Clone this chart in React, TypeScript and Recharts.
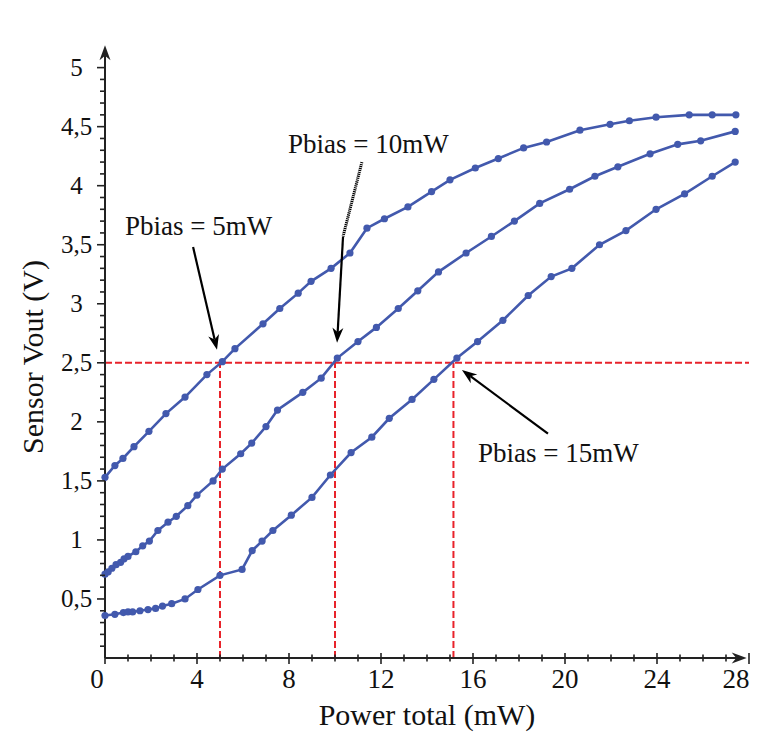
import React from "react";
import { LineChart, Line, XAxis, YAxis, ReferenceLine } from "recharts";

// Pbias = 5 mW curve
const pbias5X = [0, 0.43, 0.78, 1.26, 1.91, 2.65, 3.48, 4.43, 5.1, 5.65, 6.87, 7.6, 8.4, 8.96, 9.83, 10.65, 11.39, 12.15, 13.17, 14.2, 15.0, 16.1, 17.1, 18.2, 19.2, 20.65, 21.96, 22.8, 23.96, 25.4, 26.4, 27.43];
const pbias5Y = [1.53, 1.63, 1.69, 1.79, 1.92, 2.07, 2.21, 2.4, 2.51, 2.62, 2.83, 2.96, 3.09, 3.19, 3.3, 3.43, 3.64, 3.72, 3.82, 3.95, 4.05, 4.15, 4.23, 4.32, 4.37, 4.47, 4.52, 4.55, 4.58, 4.6, 4.6, 4.6];

// Pbias = 10 mW curve
const pbias10X = [0, 0.14, 0.3, 0.48, 0.68, 0.83, 1.0, 1.34, 1.64, 1.93, 2.3, 2.74, 3.1, 3.6, 4.0, 4.7, 5.1, 5.9, 6.38, 7.0, 7.5, 8.6, 9.4, 10.1, 11.0, 11.8, 12.75, 13.6, 14.5, 15.7, 16.8, 17.8, 18.9, 20.2, 21.3, 22.3, 23.7, 24.9, 25.9, 27.4];
const pbias10Y = [0.71, 0.73, 0.76, 0.79, 0.81, 0.84, 0.86, 0.9, 0.95, 0.99, 1.08, 1.15, 1.2, 1.29, 1.38, 1.5, 1.6, 1.73, 1.82, 1.96, 2.1, 2.25, 2.37, 2.54, 2.68, 2.8, 2.96, 3.11, 3.27, 3.43, 3.57, 3.7, 3.85, 3.97, 4.08, 4.16, 4.27, 4.35, 4.38, 4.46];

// Pbias = 15 mW curve
const pbias15X = [0, 0.43, 0.8, 1.0, 1.2, 1.52, 1.87, 2.2, 2.5, 2.9, 3.48, 4.04, 5.0, 5.96, 6.4, 6.83, 7.3, 8.1, 9.0, 9.8, 10.7, 11.6, 12.36, 13.35, 14.3, 15.3, 16.2, 17.3, 18.4, 19.4, 20.3, 21.5, 22.65, 23.96, 25.2, 26.4, 27.4];
const pbias15Y = [0.36, 0.37, 0.385, 0.39, 0.39, 0.4, 0.41, 0.42, 0.44, 0.46, 0.5, 0.58, 0.7, 0.75, 0.91, 0.99, 1.08, 1.21, 1.36, 1.55, 1.74, 1.87, 2.03, 2.19, 2.36, 2.54, 2.68, 2.86, 3.07, 3.23, 3.3, 3.5, 3.62, 3.8, 3.93, 4.08, 4.2];

// red guide lines: Vout level and the three crossing powers
const guideLevel = 2.5;
const guideCrossings = [5, 10, 15.15];

const xTicks = Array.from({ length: 29 }, (_, i) => i);
const yTicks = Array.from({ length: 50 }, (_, i) => (i + 1) / 10);

const toPoints = (xs: number[], ys: number[]) => xs.map((x, i) => ({ x, y: ys[i] }));

const BLUE = "#4259ad";
const RED = "#e8232b";
const FONT = "'Liberation Serif', 'Times New Roman', serif";

const XTick = (props: any) => {
  const { x, y, payload } = props;
  const v = payload.value;
  const major = v % 4 === 0;
  let dx = 0;
  if (v === 0) dx = -8;
  if (v === 28) dx = -13;
  return (
    <g>
      <line x1={x} x2={x} y1={y - (major ? 5 : 3.5)} y2={y + (major ? 6 : 3.5)} stroke="#222" strokeWidth={1.6} />
      {major && (
        <text x={x + dx} y={y + 30} textAnchor="middle" fontFamily={FONT} fontSize={27} fill="#111">
          {v}
        </text>
      )}
    </g>
  );
};

const YTick = (props: any) => {
  const { x, y, payload } = props;
  const v = payload.value;
  const major = Math.abs(v * 2 - Math.round(v * 2)) < 1e-6;
  return (
    <g>
      <line x1={x - (major ? 8 : 5)} x2={x} y1={y} y2={y} stroke="#222" strokeWidth={1.6} />
      {major && (
        <text x={x - 28.5} y={y + 8} textAnchor="middle" fontFamily={FONT} fontSize={25} fill="#111">
          {String(v).replace(".", ",")}
        </text>
      )}
    </g>
  );
};

const arrow = (color: string, width: number, len: number, half: number) => (props: any) => {
  const { x1, y1, x2, y2 } = props;
  const a = Math.atan2(y2 - y1, x2 - x1);
  const c = Math.cos(a);
  const s = Math.sin(a);
  const bx = x2 - len * c;
  const by = y2 - len * s;
  const nx = x2 - len * 0.7 * c;
  const ny = y2 - len * 0.7 * s;
  const pts = `${x2},${y2} ${bx - half * s},${by + half * c} ${nx},${ny} ${bx + half * s},${by - half * c}`;
  return (
    <g>
      <line x1={x1} y1={y1} x2={nx} y2={ny} stroke={color} strokeWidth={width} />
      <polygon points={pts} fill={color} />
    </g>
  );
};

export default function App() {
  const d5 = toPoints(pbias5X, pbias5Y);
  const d10 = toPoints(pbias10X, pbias10Y);
  const d15 = toPoints(pbias15X, pbias15Y);

  return (
    <div style={{ width: 771, height: 741, background: "#fff" }}>
      <LineChart width={771} height={741} margin={{ top: 36, right: 30, bottom: 41, left: 57 }}>
        <XAxis
          type="number"
          dataKey="x"
          domain={[0, 28]}
          ticks={xTicks}
          interval={0}
          axisLine={false}
          tickLine={false}
          tickSize={0}
          tickMargin={0}
          tick={<XTick />}
          height={50}
        />
        <YAxis
          type="number"
          dataKey="y"
          domain={[0, 5.2]}
          ticks={yTicks}
          interval={0}
          axisLine={false}
          tickLine={false}
          tickSize={0}
          tickMargin={0}
          tick={<YTick />}
          width={40}
        />

        <ReferenceLine
          segment={[{ x: 0, y: guideLevel }, { x: 28, y: guideLevel }]}
          stroke={RED}
          strokeWidth={2}
          strokeDasharray="7 3"
          ifOverflow="visible"
        />
        {guideCrossings.map((c) => (
          <ReferenceLine
            key={c}
            segment={[{ x: c, y: 0 }, { x: c, y: guideLevel }]}
            stroke={RED}
            strokeWidth={2}
            strokeDasharray="7 3"
            ifOverflow="visible"
          />
        ))}

        <Line data={d5} dataKey="y" stroke={BLUE} strokeWidth={2.6} dot={{ r: 3.6, fill: BLUE, stroke: "none" }} isAnimationActive={false} />
        <Line data={d10} dataKey="y" stroke={BLUE} strokeWidth={2.6} dot={{ r: 3.6, fill: BLUE, stroke: "none" }} isAnimationActive={false} />
        <Line data={d15} dataKey="y" stroke={BLUE} strokeWidth={2.6} dot={{ r: 3.6, fill: BLUE, stroke: "none" }} isAnimationActive={false} />

        {/* axes with arrow heads */}
        <ReferenceLine segment={[{ x: 0, y: 0 }, { x: 27.9, y: 0 }]} ifOverflow="visible" shape={arrow("#222", 2, 15, 5.5)} />
        <ReferenceLine segment={[{ x: 0, y: 0 }, { x: 0, y: 5.19 }]} ifOverflow="visible" shape={arrow("#222", 2, 15, 5.5)} />

        {/* annotation arrows */}
        <ReferenceLine segment={[{ x: 3.83, y: 3.48 }, { x: 4.87, y: 2.61 }]} ifOverflow="visible" shape={arrow("#000", 2.2, 15, 5.5)} />
        <ReferenceLine
          segment={[{ x: 11.17, y: 4.2 }, { x: 10.35, y: 3.57 }]}
          ifOverflow="visible"
          stroke="#000"
          strokeWidth={3}
          strokeDasharray="1.2 0.8"
        />
        <ReferenceLine segment={[{ x: 10.35, y: 3.57 }, { x: 10.09, y: 2.67 }]} ifOverflow="visible" shape={arrow("#000", 2.2, 15, 5.5)} />
        <ReferenceLine segment={[{ x: 19.26, y: 1.9 }, { x: 15.52, y: 2.44 }]} ifOverflow="visible" shape={arrow("#000", 2.2, 15, 5.5)} />

        <text x={117} y={227} fontFamily={FONT} fontSize={27} fill="#111">Pbias = 5mW</text>
        <text x={280} y={145} fontFamily={FONT} fontSize={27} fill="#111">Pbias = 10mW</text>
        <text x={470} y={454} fontFamily={FONT} fontSize={27} fill="#111">Pbias = 15mW</text>

        <text x={419} y={717} textAnchor="middle" fontFamily={FONT} fontSize={30} fill="#111">Power total (mW)</text>
        <text x={35} y={349} textAnchor="middle" transform="rotate(-90 35 349)" fontFamily={FONT} fontSize={30} fill="#111">
          Sensor Vout (V)
        </text>
      </LineChart>
    </div>
  );
}
